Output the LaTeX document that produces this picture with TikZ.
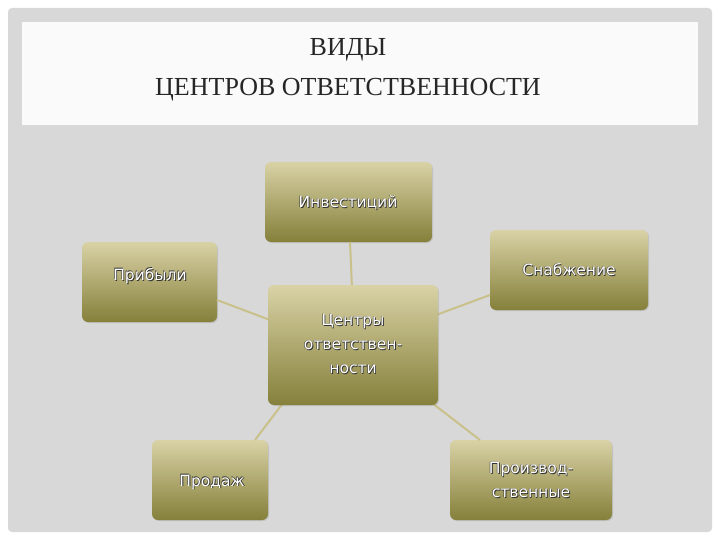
\documentclass[tikz,border=0pt]{standalone}
\usepackage{fontspec}
\setmainfont{Liberation Serif}
\newfontfamily\boxfont{DejaVu Sans}
\usetikzlibrary{shadows}
\definecolor{bgray}{HTML}{D8D8D8}
\definecolor{toptan}{HTML}{D9D2A6}
\definecolor{botolive}{HTML}{85803A}
\definecolor{linetan}{HTML}{C9C08A}
\tikzset{
  box/.style={rounded corners=6pt, top color=toptan, bottom color=botolive, draw=none,
    drop shadow={opacity=0.25, shadow xshift=1pt, shadow yshift=-1pt}},
  lbl/.style={text=white, font=\boxfont\fontsize{15.5}{24}\selectfont, align=center},
  shd/.style={text=black!80, font=\boxfont\fontsize{15.5}{24}\selectfont, align=center},
  conn/.style={draw=linetan, line width=2pt}
}
\begin{document}
\begin{tikzpicture}[x=1pt,y=-1pt]
\useasboundingbox (0,0) rectangle (720,540);
\fill[white] (0,0) rectangle (720,540);
\fill[bgray, rounded corners=4pt] (8,8) rectangle (712,532);
\fill[white!96!gray] (22,22) rectangle (698,125);
\node[font=\fontsize{26}{40}\selectfont, align=center, text=black!85] (title) at (348,70) {ВИДЫ\\ЦЕНТРОВ ОТВЕТСТВЕННОСТИ};
% boxes
\path[box] (265,162) rectangle (432,242);
\path[box] (82,242) rectangle (217,322);
\path[box] (490,230) rectangle (648,310);
\path[box] (152,440) rectangle (268,520);
\path[box] (450,440) rectangle (612,520);
% connectors
\coordinate (a1) at (350,242); \coordinate (a2) at (352,288);
\coordinate (b1) at (217,300); \coordinate (b2) at (270,320);
\coordinate (c1) at (490,295); \coordinate (c2) at (436,315);
\coordinate (d1) at (283,403); \coordinate (d2) at (255,440);
\coordinate (e1) at (432,403); \coordinate (e2) at (480,440);
\draw[conn] (a1)--(a2); \draw[conn] (b1)--(b2); \draw[conn] (c1)--(c2);
\draw[conn] (d1)--(d2); \draw[conn] (e1)--(e2);
\path[box] (268,285) rectangle (438,405);
% labels (shadow + white)
\foreach \n/\x/\y/\t in {tinv/348/203/{Инвестиций}, tpr/150/276/{Прибыли}, tsn/569/270/{Снабжение}, tce/353/344/{Центры\\ответствен-\\ности}, tpd/212/482/{Продаж}, tpz/531/480/{Производ-\\ственные}}{
  \node[shd] (\n s) at (\x+0.9,\y+0.9) {\t};
  \node[shd] (\n h) at (\x-0.5,\y-0.5) {\t};
  \node[lbl] (\n) at (\x,\y) {\t};
}
\end{tikzpicture}
\end{document}
